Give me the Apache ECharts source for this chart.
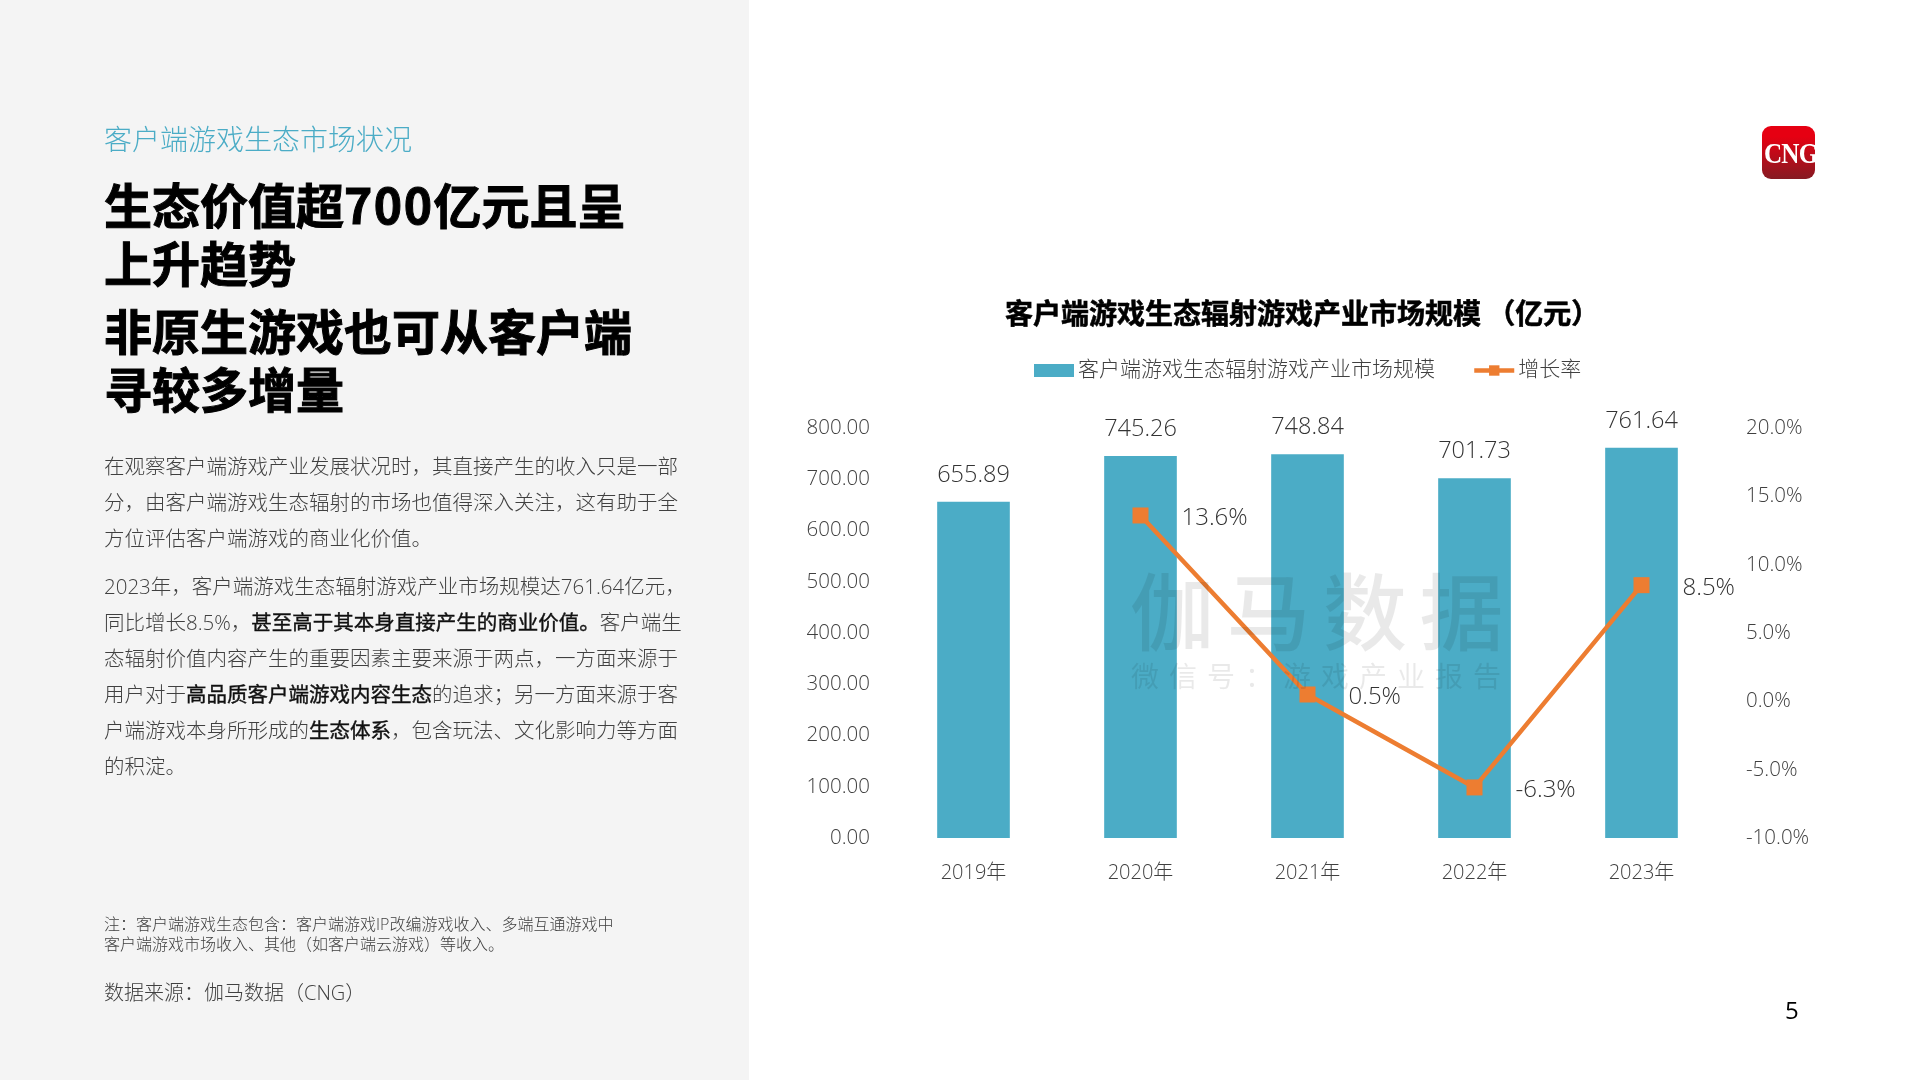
<!DOCTYPE html>
<html lang="zh-CN">
<head>
<meta charset="utf-8">
<title>客户端游戏生态市场状况</title>
<script src="https://cdn.jsdelivr.net/npm/echarts@6/dist/echarts.min.js"></script>
<style>
    html, body { margin: 0; padding: 0; width: 1920px; height: 1080px; overflow: hidden; background: #fff; }
    body { position: relative; font-family: "Open Sans", "Noto Sans CJK SC", sans-serif; font-weight: 300; color: #404040; }
    #side_panel { position: absolute; left: 0; top: 0; width: 749px; height: 1080px; background: #f4f4f4; }
    #chart { position: absolute; left: 0; top: 0; width: 1920px; height: 1080px; }
    .text { position: absolute; left: 104px; white-space: nowrap; }
    #kicker { top: 119px; font-size: 28px; line-height: 40px; color: #4bacc6; }
    .heading { font-size: 48px; line-height: 57.5px; font-weight: 700; color: #000; font-family: "Noto Sans CJK SC", sans-serif; -webkit-text-stroke: 1px #000; }
    .heading span { letter-spacing: 1.5px; }
    .body_text { font-size: 20.5px; line-height: 36px; }
    /* The bold runs of the reference are only a little heavier than the text around them */
    .body_text b { font-weight: 400; color: #111; -webkit-text-stroke: 0.4px #111; }
    #note { top: 915px; font-size: 16px; line-height: 19.5px; }
    #source { top: 978px; font-size: 20px; line-height: 30px; }
    #logo { position: absolute; left: 1762px; top: 126px; width: 53px; height: 53px; border-radius: 9px; overflow: hidden;
            background: linear-gradient(#e60012 20%, #861a22); color: #fff; font: 700 30px/53px "Liberation Serif", serif; white-space: nowrap; }
    #logo span { display: inline-block; margin-left: 2px; letter-spacing: -1px; transform: scaleX(0.84); transform-origin: left center; }
    #page_number { position: absolute; left: 1785px; top: 995px; font-size: 24px; line-height: 30px; font-weight: 400; color: #000; }
    /* The watermark lies over the chart */
    .watermark { position: absolute; color: rgba(0, 0, 0, 0.085); white-space: nowrap; pointer-events: none; font-family: "Noto Sans CJK SC", sans-serif; font-weight: 500; }
    #watermark_main { left: 1130px; top: 553px; font-size: 84px; line-height: 110px; letter-spacing: 12.5px; }
    #watermark_sub { left: 1131px; top: 655px; font-size: 28px; line-height: 40px; letter-spacing: 10px; font-weight: 400; }
</style>
</head>
<body>
<div id="side_panel"></div>
<div id="chart"></div>

<div class="text" id="kicker">客户端游戏生态市场状况</div>
<div class="text heading" style="top:175px">生态价值超<span>700</span>亿元且呈<br>上升趋势</div>
<div class="text heading" style="top:301px">非原生游戏也可从客户端<br>寻较多增量</div>
<div class="text body_text" style="top:448px">在观察客户端游戏产业发展状况时，其直接产生的收入只是一部<br>分，由客户端游戏生态辐射的市场也值得深入关注，这有助于全<br>方位评估客户端游戏的商业化价值。</div>
<div class="text body_text" style="top:568px">2023年，客户端游戏生态辐射游戏产业市场规模达761.64亿元，<br>同比增长8.5%，<b>甚至高于其本身直接产生的商业价值。</b>客户端生<br>态辐射价值内容产生的重要因素主要来源于两点，一方面来源于<br>用户对于<b>高品质客户端游戏内容生态</b>的追求；另一方面来源于客<br>户端游戏本身所形成的<b>生态体系</b>，包含玩法、文化影响力等方面<br>的积淀。</div>
<div class="text" id="note">注：客户端游戏生态包含：客户端游戏IP改编游戏收入、多端互通游戏中<br>客户端游戏市场收入、其他（如客户端云游戏）等收入。</div>
<div class="text" id="source">数据来源：伽马数据（CNG）</div>

<div id="logo"><span>CNG</span></div>
<div id="page_number">5</div>
<div class="watermark" id="watermark_main">伽马数据</div>
<div class="watermark" id="watermark_sub">微信号：游戏产业报告</div>

<script>
    // Values
    const YEARS = ['2019年', '2020年', '2021年', '2022年', '2023年'];
    const MARKET_SIZE = [655.89, 745.26, 748.84, 701.73, 761.64];
    // 2019 has no growth rate
    const GROWTH_RATE = [null, 13.6, 0.5, -6.3, 8.5];
    const SIZE_TICKS = [0, 800, 100];
    const RATE_TICKS = [-10, 20, 5];

    const SIZE_NAME = '客户端游戏生态辐射游戏产业市场规模';
    const RATE_NAME = '增长率';
    const LATIN_FONT = '"Open Sans", "Noto Sans CJK SC", sans-serif';

    const chart = echarts.init(document.getElementById('chart'), null, { renderer: 'canvas' });
    const option = {
        animation: false,
        backgroundColor: 'transparent',
        title: {
            text: '客户端游戏生态辐射游戏产业市场规模 （亿元）',
            left: 1000,
            top: 294,
            textStyle: {
                fontFamily: '"Noto Sans CJK SC", sans-serif',
                fontSize: 28,
                fontWeight: 700,
                color: '#000',
                textBorderColor: '#000',
                textBorderWidth: 0.6
            }
        },
        legend: {
            left: 1029,
            top: 355,
            itemWidth: 40,
            itemHeight: 13,
            itemGap: 37,
            data: [
                { name: SIZE_NAME, icon: 'rect' },
                { name: RATE_NAME, lineStyle: { width: 4.5 } }
            ],
            textStyle: { fontFamily: LATIN_FONT, fontWeight: 300, fontSize: 21, color: '#404040', padding: [0, 0, 0, -1] }
        },
        grid: { left: 890, right: 195, top: 428, bottom: 242 },
        xAxis: [
            {
                type: 'category',
                data: YEARS,
                axisLine: { show: false },
                axisTick: { show: false },
                axisLabel: { margin: 25, fontFamily: LATIN_FONT, fontWeight: 300, fontSize: 20, color: '#404040' }
            }
        ],
        yAxis: [
            {
                type: 'value',
                min: SIZE_TICKS[0],
                max: SIZE_TICKS[1],
                interval: SIZE_TICKS[2],
                splitLine: { show: false },
                axisLabel: {
                    margin: 20,
                    padding: [2, 0, 0, 0],
                    fontFamily: LATIN_FONT,
                    fontWeight: 300,
                    fontSize: 20.5,
                    color: '#404040',
                    formatter: value => value.toFixed(2)
                }
            },
            {
                type: 'value',
                min: RATE_TICKS[0],
                max: RATE_TICKS[1],
                interval: RATE_TICKS[2],
                splitLine: { show: false },
                axisLabel: {
                    margin: 21,
                    padding: [2, 0, 0, 0],
                    fontFamily: LATIN_FONT,
                    fontWeight: 300,
                    fontSize: 20.5,
                    color: '#404040',
                    formatter: value => value.toFixed(1) + '%'
                }
            }
        ],
        series: [
            {
                name: SIZE_NAME,
                type: 'bar',
                data: MARKET_SIZE,
                barWidth: '43.5%',
                itemStyle: { color: '#4bacc6' },
                label: {
                    show: true,
                    position: 'top',
                    distance: 15,
                    fontFamily: LATIN_FONT,
                    fontWeight: 300,
                    fontSize: 23.5,
                    color: '#333',
                    formatter: params => params.value.toFixed(2)
                }
            },
            {
                name: RATE_NAME,
                type: 'line',
                yAxisIndex: 1,
                data: GROWTH_RATE,
                symbol: 'rect',
                symbolSize: 16,
                lineStyle: { color: '#ed7d31', width: 4.5 },
                itemStyle: { color: '#ed7d31' },
                label: {
                    show: true,
                    position: 'right',
                    distance: 33,
                    offset: [0, 3],
                    fontFamily: LATIN_FONT,
                    fontWeight: 300,
                    fontSize: 24,
                    color: '#333',
                    formatter: params => params.value.toFixed(1) + '%'
                }
            }
        ]
    };
    chart.setOption(option);
</script>
</body>
</html>
